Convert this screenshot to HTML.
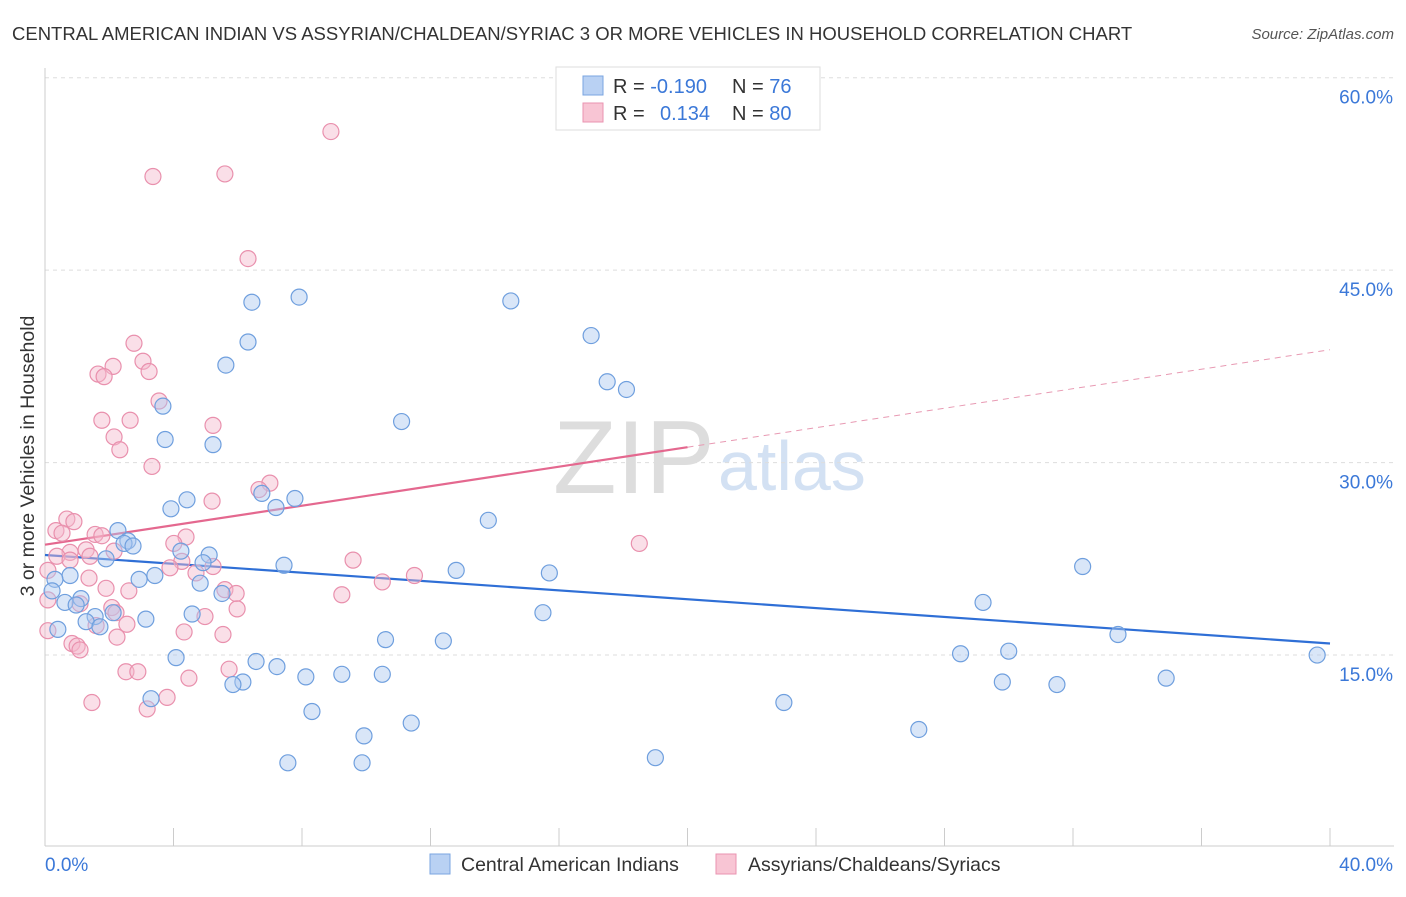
<!DOCTYPE html>
<html><head><meta charset="utf-8"><style>
body{margin:0;background:#fff;font-family:"Liberation Sans",sans-serif;}
svg text{font-family:"Liberation Sans",sans-serif;}
</style></head><body>
<svg id="chart" width="1406" height="892" viewBox="0 0 1406 892">
<text x="12" y="40" font-size="18.5" fill="#333">CENTRAL AMERICAN INDIAN VS ASSYRIAN/CHALDEAN/SYRIAC 3 OR MORE VEHICLES IN HOUSEHOLD CORRELATION CHART</text>
<text x="1394" y="39" font-size="15" fill="#555" font-style="italic" text-anchor="end">Source: ZipAtlas.com</text>
<text x="34" y="456" font-size="19.5" fill="#333" transform="rotate(-90 34 456)" text-anchor="middle">3 or more Vehicles in Household</text>
<text x="553" y="493" font-size="104" fill="#ddd" font-family="Liberation Serif">ZIP</text>
<text x="718" y="490" font-size="70" fill="#d3e1f3">atlas</text>
<g id="grid"></g><g id="axes"></g><g id="trend"></g><g id="pts"></g>
<g>
<rect x="556" y="67" width="264" height="63" fill="#fff" stroke="#ddd"/>
<rect x="583" y="76" width="20" height="19" fill="#b9d1f3" stroke="#7aa5e0"/>
<rect x="583" y="103" width="20" height="19" fill="#f8c5d4" stroke="#ea93b0"/>
<text x="613" y="93" font-size="20" fill="#333">R = <tspan fill="#3b78d8">-0.190</tspan><tspan x="732">N = </tspan><tspan fill="#3b78d8">76</tspan></text>
<text x="613" y="120" font-size="20" fill="#333">R = <tspan x="660" fill="#3b78d8">0.134</tspan><tspan x="732">N = </tspan><tspan fill="#3b78d8">80</tspan></text>
</g>
<g>
<rect x="430" y="854" width="20" height="20" fill="#b9d1f3" stroke="#7aa5e0"/>
<text x="461" y="871" font-size="19.5" fill="#333">Central American Indians</text>
<rect x="716" y="854" width="20" height="20" fill="#f8c5d4" stroke="#ea93b0"/>
<text x="748" y="871" font-size="19.5" fill="#333">Assyrians/Chaldeans/Syriacs</text>
</g>
</svg>
<script>
const yTicks=[15,30,45,60];
const yTickLabels=["15.0%","30.0%","45.0%","60.0%"];
const xTicks=[0,4,8,12,16,20,24,28,32,36,40];
const blueX=[6.44,7.91,14.5,17.0,6.32,5.63,17.5,18.1,3.67,11.1,3.74,5.23,4.42,6.75,7.78,7.19,3.92,13.8,2.27,2.58,2.46,2.74,4.23,5.11,1.90,4.92,7.44,12.8,32.3,15.7,0.78,3.42,2.93,0.31,4.83,0.22,5.51,1.12,0.62,0.97,29.2,4.58,15.5,2.12,1.56,3.14,1.28,1.71,0.40,33.4,10.6,12.4,39.6,28.5,30.0,4.08,6.57,7.22,8.12,9.24,10.5,34.9,6.16,5.85,29.8,31.5,3.30,23.0,8.31,11.4,27.2,9.93,7.56,9.87,19.0];
const blueY=[42.5,42.9,42.6,39.9,39.4,37.6,36.3,35.7,34.4,33.2,31.8,31.4,27.1,27.6,27.2,26.5,26.4,25.5,24.7,23.9,23.7,23.5,23.1,22.8,22.5,22.2,22.0,21.6,21.9,21.4,21.2,21.2,20.9,20.9,20.6,20.0,19.8,19.4,19.1,18.9,19.1,18.2,18.3,18.3,18.0,17.8,17.6,17.2,17.0,16.6,16.2,16.1,15.0,15.1,15.3,14.8,14.5,14.1,13.3,13.5,13.5,13.2,12.9,12.7,12.9,12.7,11.6,11.3,10.6,9.7,9.2,8.7,6.6,6.6,7.0];
const pinkX=[8.90,3.36,5.60,6.32,2.77,2.12,3.05,1.65,1.84,3.24,3.55,1.77,2.65,5.23,2.15,2.33,3.33,7.00,6.66,5.20,0.68,0.90,0.34,0.53,1.56,1.77,4.39,4.01,18.5,1.28,2.15,0.78,0.37,1.40,9.59,0.78,4.26,5.23,3.89,0.09,4.70,11.5,10.5,1.37,1.90,5.60,5.95,2.61,9.24,0.09,1.09,5.98,2.08,2.21,4.98,2.55,1.59,0.09,4.33,5.54,2.24,0.84,1.00,1.09,5.73,2.52,2.89,4.48,3.80,1.46,3.18];
const pinkY=[55.8,52.3,52.5,45.9,39.3,37.5,37.9,36.9,36.7,37.1,34.8,33.3,33.3,32.9,32.0,31.0,29.7,28.4,27.9,27.0,25.6,25.4,24.7,24.5,24.4,24.3,24.2,23.7,23.7,23.2,23.1,23.0,22.7,22.7,22.4,22.4,22.3,21.9,21.8,21.6,21.4,21.2,20.7,21.0,20.2,20.1,19.8,20.0,19.7,19.3,19.0,18.6,18.7,18.3,18.0,17.4,17.3,16.9,16.8,16.6,16.4,15.9,15.7,15.4,13.9,13.7,13.7,13.2,11.7,11.3,10.8];
const blueTrend=[22.8,15.9];   // y at x=0, x=40
const pinkTrend=[23.6,38.8];   // y at x=0, x=40
const pinkSolidEnd=20;
const NS="http://www.w3.org/2000/svg";
const X=v=>45+v*32.125, Y=v=>847.5-v*12.83;
function mk(tag,attrs,parent){const e=document.createElementNS(NS,tag);for(const k in attrs)e.setAttribute(k,attrs[k]);document.getElementById(parent).appendChild(e);return e;}
yTicks.forEach((t,i)=>{
 const g=mk('line',{x1:45,x2:1394,y1:Y(t),y2:Y(t),stroke:'#ddd','stroke-dasharray':'4,4'},'grid');
 
 
 const l=mk('text',{x:1393,y:Y(t)+26,'font-size':19,fill:'#3b78d8','text-anchor':'end'},'axes');
 l.textContent=yTickLabels[i];
 
 
});
mk('line',{x1:45,x2:45,y1:68,y2:846,stroke:'#ccc'},'axes');
mk('line',{x1:45,x2:1394,y1:846,y2:846,stroke:'#ccc'},'axes');
xTicks.forEach(t=>{const e=mk('line',{x1:X(t),x2:X(t),y1:828,y2:846,stroke:'#ccc'},'axes');
 
 });
let t0=mk('text',{x:45,y:871,'font-size':19,fill:'#3b78d8'},'axes');t0.textContent='0.0%';


let t1=mk('text',{x:1393,y:871,'font-size':19,fill:'#3b78d8','text-anchor':'end'},'axes');t1.textContent='40.0%';


function dots(xs,ys,fill,stroke,name){xs.forEach((x,i)=>{const c=mk('circle',{cx:X(x),cy:Y(ys[i]),r:8,fill:fill,'fill-opacity':0.45,stroke:stroke,'stroke-width':1.2},'pts');
 
 });}
dots(pinkX,pinkY,'#f5b8cb','#e990ad','pink-point');
dots(blueX,blueY,'#aac7ef','#6f9fde','blue-point');
const pm=(pinkTrend[1]-pinkTrend[0])/40;
let tl=mk('line',{x1:X(0),y1:Y(blueTrend[0]),x2:X(40),y2:Y(blueTrend[1]),stroke:'#2f6fd6','stroke-width':2.2},'trend');


let pl=mk('line',{x1:X(0),y1:Y(pinkTrend[0]),x2:X(pinkSolidEnd),y2:Y(pinkTrend[0]+pm*pinkSolidEnd),stroke:'#e4688f','stroke-width':2.2},'trend');


let pd=mk('line',{x1:X(pinkSolidEnd),y1:Y(pinkTrend[0]+pm*pinkSolidEnd),x2:X(40),y2:Y(pinkTrend[1]),stroke:'#e89ab3','stroke-width':1,'stroke-dasharray':'6,5'},'trend');


</script>
</body></html>
